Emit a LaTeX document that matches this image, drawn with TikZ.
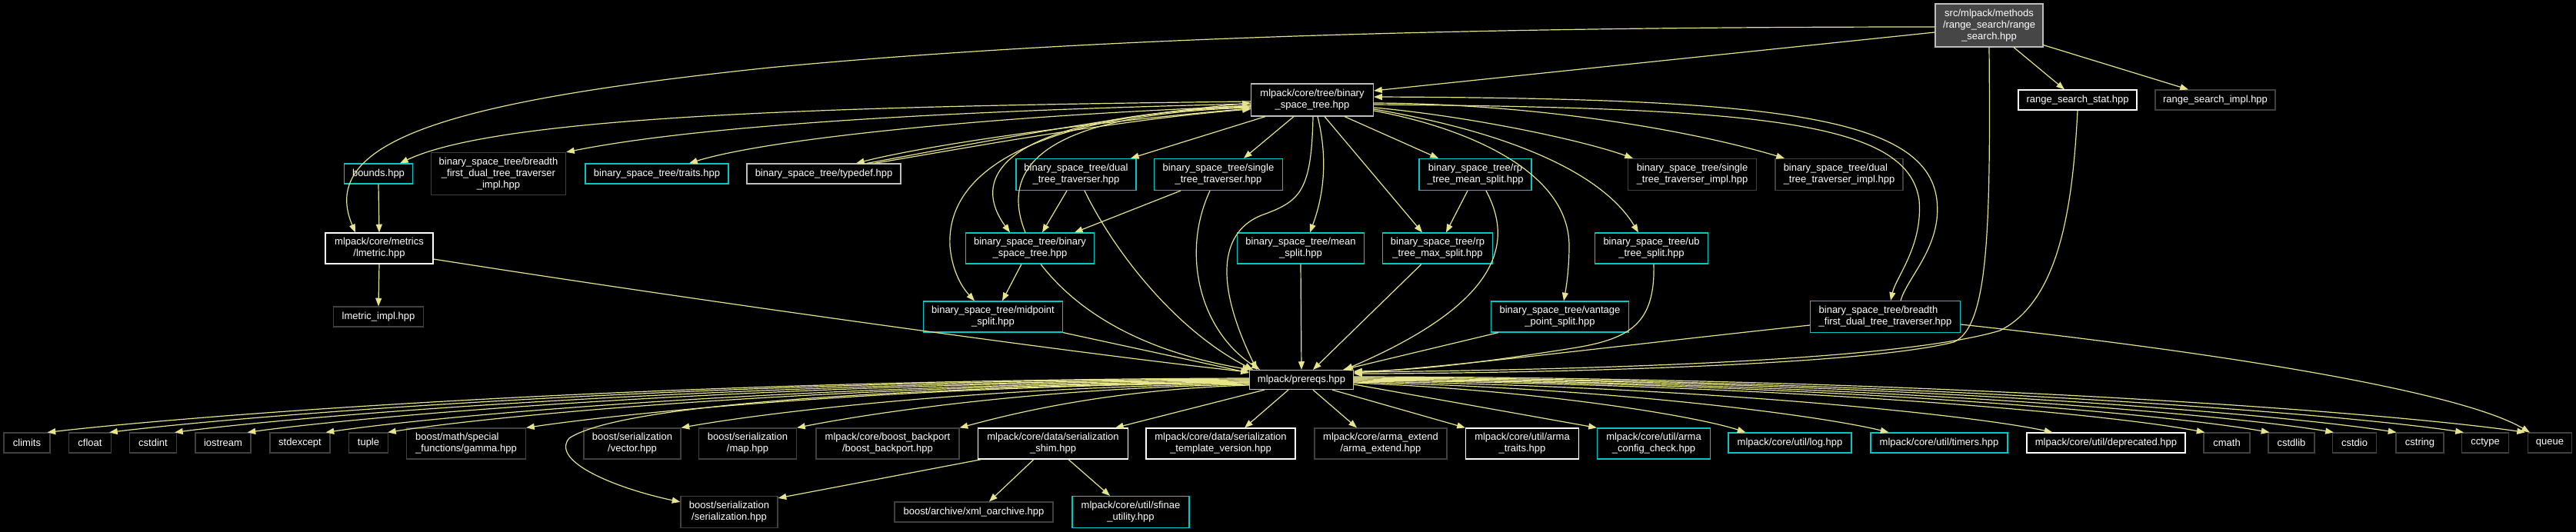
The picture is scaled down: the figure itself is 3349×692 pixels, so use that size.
\documentclass[tikz,border=0pt]{standalone}
\usepackage{fontspec}
\setmainfont{Liberation Sans}
\usetikzlibrary{arrows.meta,calc}
\definecolor{edgec}{RGB}{230,228,140}
\definecolor{cyanb}{RGB}{0,200,200}
\definecolor{darkb}{RGB}{64,64,64}
\definecolor{lightb}{RGB}{190,190,190}
\definecolor{rootf}{RGB}{70,70,70}
\begin{document}
\begin{tikzpicture}[x=0.75pt,y=-0.75pt,
 box/.style={draw, line width=0.9pt, fill=black, text=white, inner xsep=0pt, inner ysep=0pt,
   font=\fontsize{9.75pt}{11.25pt}\selectfont, align=center},
 cy/.style={box, draw=cyanb},
 dk/.style={box, draw=darkb},
 wh/.style={box, draw=white},
 lg/.style={box, draw=lightb},
 bw/.style={minimum width=#1*0.75pt},
 bh/.style={minimum height=#1*0.75pt},
 edg/.style={draw=edgec, line width=0.9pt, -{Triangle[length=8pt,width=6pt]}},
]
\fill[black] (0,0) rectangle (3349,692);
\useasboundingbox (0,0) rectangle (3349,692);

% ---------- nodes ----------
\node[lg, fill=rootf, bw=140, bh=56] (R) at (2586,33) {src/mlpack/methods\\/range\_search/range\\\_search.hpp};
\node[lg, bw=159, bh=42] (T) at (1706,130) {mlpack/core/tree/binary\\\_space\_tree.hpp};
\node[wh, bw=154, bh=26] (RSS) at (2701,130) {range\_search\_stat.hpp};
\node[dk, bw=156, bh=26] (RSI) at (2880,130) {range\_search\_impl.hpp};

\node[cy, bw=89, bh=26] (B) at (492,226) {bounds.hpp};
\node[dk, bw=175, bh=55] (BFI) at (648,226) {binary\_space\_tree/breadth\\\_first\_dual\_tree\_traverser\\\_impl.hpp};
\node[cy, bw=186, bh=26] (TR) at (854,226) {binary\_space\_tree/traits.hpp};
\node[lg, bw=200, bh=26] (TD) at (1071,226) {binary\_space\_tree/typedef.hpp};
\node[cy, bw=156, bh=41] (DT) at (1399,227) {binary\_space\_tree/dual\\\_tree\_traverser.hpp};
\node[cy, bw=167, bh=41] (ST) at (1584,227) {binary\_space\_tree/single\\\_tree\_traverser.hpp};
\node[cy, bw=146, bh=41] (RMN) at (1918,227) {binary\_space\_tree/rp\\\_tree\_mean\_split.hpp};
\node[dk, bw=167, bh=41, align=left] (STI) at (2200,227) {binary\_space\_tree/single\\\_tree\_traverser\_impl.hpp};
\node[dk, bw=166, bh=41, align=left] (DTI) at (2391,227) {binary\_space\_tree/dual\\\_tree\_traverser\_impl.hpp};

\node[wh, bw=140, bh=40] (LM) at (493,323) {mlpack/core/metrics\\/lmetric.hpp};
\node[cy, bw=167, bh=40] (BB) at (1339,323) {binary\_space\_tree/binary\\\_space\_tree.hpp};
\node[cy, bw=165, bh=40] (MS) at (1691,323) {binary\_space\_tree/mean\\\_split.hpp};
\node[cy, bw=143, bh=40] (RMX) at (1869,323) {binary\_space\_tree/rp\\\_tree\_max\_split.hpp};
\node[cy, bw=147, bh=40] (UB) at (2147,323) {binary\_space\_tree/ub\\\_tree\_split.hpp};

\node[dk, bw=117, bh=26] (LMI) at (492,412) {lmetric\_impl.hpp};
\node[cy, bw=181, bh=40] (MP) at (1291,412) {binary\_space\_tree/midpoint\\\_split.hpp};
\node[cy, bw=179, bh=40] (VP) at (2028,412) {binary\_space\_tree/vantage\\\_point\_split.hpp};
\node[cy, bw=195, bh=41, align=left] (BFT) at (2451,412) {binary\_space\_tree/breadth\\\_first\_dual\_tree\_traverser.hpp};

\node[lg, bw=135, bh=25] (P) at (1692,494) {mlpack/prereqs.hpp};

\node[dk, bw=60, bh=26] (climits) at (35,576) {climits};
\node[dk, bw=55, bh=26] (cfloat) at (117,576) {cfloat};
\node[dk, bw=61, bh=26] (cstdint) at (199,576) {cstdint};
\node[dk, bw=72, bh=26] (iostream) at (290,576) {iostream};
\node[dk, bw=78, bh=26] (stdexcept) at (390,576) {stdexcept};
\node[dk, bw=51, bh=26] (tuple) at (479,576) {tuple};
\node[dk, bw=155, bh=40, align=left] (GAM) at (606,577) {boost/math/special\\\_functions/gamma.hpp};
\node[dk, bw=126, bh=40] (VEC) at (822,577) {boost/serialization\\/vector.hpp};
\node[dk, bw=127, bh=40] (MAP) at (972,577) {boost/serialization\\/map.hpp};
\node[dk, bw=186, bh=40] (BBP) at (1154,577) {mlpack/core/boost\_backport\\/boost\_backport.hpp};
\node[wh, bw=195, bh=40] (SS) at (1369,577) {mlpack/core/data/serialization\\\_shim.hpp};
\node[wh, bw=194, bh=40] (TV) at (1587,577) {mlpack/core/data/serialization\\\_template\_version.hpp};
\node[dk, bw=172, bh=40] (AE) at (1795,577) {mlpack/core/arma\_extend\\/arma\_extend.hpp};
\node[wh, bw=147, bh=40] (AT) at (1979,577) {mlpack/core/util/arma\\\_traits.hpp};
\node[cy, bw=147, bh=40] (ACC) at (2150,577) {mlpack/core/util/arma\\\_config\_check.hpp};
\node[cy, bw=160, bh=26] (LOG) at (2327,576) {mlpack/core/util/log.hpp};
\node[cy, bw=178, bh=26] (TIM) at (2521,576) {mlpack/core/util/timers.hpp};
\node[wh, bw=206, bh=26] (DEP) at (2738,576) {mlpack/core/util/deprecated.hpp};
\node[dk, bw=60, bh=26] (cmath) at (2895,576) {cmath};
\node[dk, bw=60, bh=26] (cstdlib) at (2979,576) {cstdlib};
\node[dk, bw=57, bh=26] (cstdio) at (3061,576) {cstdio};
\node[dk, bw=62, bh=26] (cstring) at (3146,576) {cstring};
\node[dk, bw=61, bh=26] (cctype) at (3231,576) {cctype};
\node[dk, bw=57, bh=26] (queue) at (3315,576) {queue};

\node[dk, bw=126, bh=41] (SER) at (948,666) {boost/serialization\\/serialization.hpp};
\node[dk, bw=206, bh=26] (XO) at (1266,666) {boost/archive/xml\_oarchive.hpp};
\node[cy, bw=152, bh=41] (SFU) at (1470,666) {mlpack/core/util/sfinae\\\_utility.hpp};

% ---------- edges from root ----------
\draw[edg] ($(R.west)+(0,9)$) -- ($(T.east)+(0,-12)$);
\draw[edg] ($(R.west)+(0,2)$) .. controls (1900,35) and (1400,50) .. (1000,88) .. controls (600,130) and (410,180) .. ($(LM.north)+(-31,0)$);
\draw[edg] ($(R.south)+(32,0)$) -- ($(RSS.north)+(-17,0)$);
\draw[edg] ($(R.south east)+(0,-3)$) -- ($(RSI.north)+(-35,0)$);
\draw[edg] (R.south) .. controls (2588,300) and (2585,425) .. (2540,445) .. controls (2400,480) and (1900,486) .. ($(P.east)+(0,-8)$);
\draw[edg] (RSS.south) .. controls (2695,260) and (2680,390) .. (2600,430) .. controls (2450,475) and (1950,482) .. ($(P.east)+(0,-10)$);

% ---------- lmetric ----------
\draw[edg] (B.south) -- (LM.north);
\draw[edg] (LM.south) -- (LMI.north);
\draw[edg] ($(LM.east)+(0,14)$) .. controls (900,390) and (1400,460) .. ($(P.west)+(0,-10)$);

% ---------- from core/tree/binary_space_tree.hpp ----------
\draw[edg] ($(T.west)+(0,2)$) .. controls (1100,138) and (650,150) .. ($(B.north)+(28,0)$);
\draw[edg] ($(T.west)+(0,5)$) .. controls (1200,145) and (900,165) .. (BFI.north east);
\draw[edg] ($(T.west)+(0,8)$) .. controls (1300,150) and (1000,180) .. ($(TR.north)+(42,0)$);
\draw[edg] ($(T.west)+(0,11)$) .. controls (1400,160) and (1200,190) .. ($(TD.north)+(42,0)$);
\draw[edg] ($(TD.north)+(56,0)$) .. controls (1250,190) and (1450,150) .. ($(T.west)+(0,4)$);
\draw[edg] ($(TD.north)+(66,0)$) .. controls (1270,190) and (1460,155) .. ($(T.west)+(0,12)$);
\draw[edg] ($(T.west)+(0,9)$) .. controls (1300,150) and (1260,230) .. ($(BB.north)+(-26,0)$);
\draw[edg] ($(BB.north)+(-6,0)$) .. controls (1300,220) and (1350,150) .. ($(T.west)+(0,10)$);
\draw[edg] ($(T.west)+(0,7)$) .. controls (1350,150) and (1230,220) .. (1235,320) .. controls (1238,355) and (1252,375) .. ($(MP.north)+(-24,0)$);
\draw[edg] ($(T.south)+(-61,0)$) -- ($(DT.north)+(71,0)$);
\draw[edg] ($(T.south)+(-24,0)$) -- ($(ST.north)+(33,0)$);
\draw[edg] ($(T.south)+(7,0)$) .. controls (1730,220) and (1715,270) .. ($(MS.north)+(12,0)$);
\draw[edg] ($(T.south)+(16,0)$) -- ($(RMX.north)+(-20,0)$);
\draw[edg] ($(T.south)+(42,0)$) -- ($(RMN.north)+(-48,0)$);
\draw[edg] ($(T.south)+(1,0)$) .. controls (1705,250) and (1690,262) .. (1640,280) .. controls (1590,300) and (1575,360) .. ($(P.north west)+(10,0)$);
\draw[edg] ($(T.east)+(0,10)$) .. controls (1900,150) and (2050,180) .. ($(STI.north)+(-77,0)$);
\draw[edg] ($(T.east)+(0,4)$) .. controls (2000,135) and (2200,170) .. ($(DTI.north)+(-71,0)$);
\draw[edg] ($(T.east)+(0,12)$) .. controls (1950,170) and (2080,220) .. ($(UB.north)+(-17,0)$);
\draw[edg] ($(T.east)+(0,14)$) .. controls (1900,165) and (2040,220) .. (2040,320) .. controls (2040,350) and (2036,375) .. ($(VP.north)+(5,0)$);
\draw[edg] ($(T.east)+(0,6)$) .. controls (2300,140) and (2480,160) .. (2495,260) .. controls (2500,320) and (2465,360) .. ($(BFT.north)+(7,0)$);
\draw[edg] ($(BFT.north)+(20,0)$) .. controls (2480,360) and (2525,320) .. (2518,260) .. controls (2505,150) and (2300,128) .. ($(T.east)+(0,-4)$);

% ---------- second level ----------
\draw[edg] ($(DT.south)+(-12,0)$) -- ($(BB.north)+(16,0)$);
\draw[edg] ($(DT.south)+(11,0)$) .. controls (1450,330) and (1530,430) .. ($(P.north west)+(5,0)$);
\draw[edg] ($(ST.south west)+(35,0)$) -- ($(BB.north)+(58,0)$);
\draw[edg] ($(ST.south)+(-11,0)$) .. controls (1535,330) and (1560,430) .. ($(P.north west)+(14,0)$);
\draw[edg] ($(BB.south)+(-11,0)$) -- ($(MP.north)+(12,0)$);
\draw[edg] ($(BB.south)+(14,0)$) .. controls (1420,430) and (1530,465) .. ($(P.north west)+(2,0)$);
\draw[edg] (MP.south east) -- ($(P.west)+(0,-9)$);
\draw[edg] (MS.south) -- (P.north);
\draw[edg] ($(RMX.south)+(-21,0)$) -- ($(P.north)+(15,0)$);
\draw[edg] ($(RMN.south)+(-10,0)$) -- ($(RMX.north)+(11,0)$);
\draw[edg] ($(RMN.south)+(14,0)$) .. controls (1965,310) and (1960,390) .. ($(P.north east)+(-12,0)$);
\draw[edg] ($(VP.south west)+(10,0)$) -- ($(P.north east)+(-14,0)$);
\draw[edg] ($(UB.south)+(3,0)$) .. controls (2152,420) and (2120,440) .. (2050,452) .. controls (1950,468) and (1850,482) .. ($(P.east)+(0,-11)$);
\draw[edg] ($(BFT.west)+(0,11)$) .. controls (2100,450) and (1900,476) .. ($(P.east)+(0,-9)$);
\draw[edg] ($(BFT.east)+(0,10)$) .. controls (2900,460) and (3200,510) .. ($(queue.north west)+(3,0)$);

% ---------- prereqs to the left ----------
\draw[edg] ($(P.west)+(0,-2)$) .. controls +(-780,2) and +(190,-22) .. ($(climits.north east)+(-4,0)$);
\draw[edg] ($(P.west)+(0,-1)$) .. controls +(-740,2) and +(180,-22) .. ($(cfloat.north east)+(-3,0)$);
\draw[edg] ($(P.west)+(0,0)$) .. controls +(-700,3) and +(170,-22) .. ($(cstdint.north east)+(-3,0)$);
\draw[edg] ($(P.west)+(0,1)$) .. controls +(-650,3) and +(160,-22) .. ($(iostream.north east)+(-5,0)$);
\draw[edg] ($(P.west)+(0,2)$) .. controls +(-600,4) and +(150,-22) .. ($(stdexcept.north east)+(-6,0)$);
\draw[edg] ($(P.west)+(0,3)$) .. controls +(-560,4) and +(140,-22) .. ($(tuple.north east)+(-1,0)$);
\draw[edg] ($(P.west)+(0,4)$) .. controls +(-470,4) and +(120,-18) .. (GAM.north east);
\draw[edg] ($(P.west)+(0,5)$) .. controls +(-370,5) and +(100,-18) .. (VEC.north east);
\draw[edg] ($(P.west)+(0,6)$) .. controls +(-290,5) and +(80,-16) .. (MAP.north east);
\draw[edg] ($(P.west)+(0,7)$) .. controls +(-190,6) and +(60,-16) .. (BBP.north east);
\draw[edg] ($(P.west)+(0,3)$) .. controls (1100,505) and (800,530) .. (740,570) .. controls (715,600) and (800,635) .. ($(SER.north west)+(0,8)$);
\draw[edg] ($(P.south west)+(20,0)$) -- ($(SS.north)+(81,0)$);
\draw[edg] ($(P.south)+(-17,0)$) -- ($(TV.north)+(31,0)$);
\draw[edg] ($(P.south)+(15,0)$) -- ($(AE.north)+(-31,0)$);
\draw[edg] ($(P.south)+(40,0)$) -- (AT.north west);
\draw[edg] ($(P.east)+(0,6)$) -- (ACC.north west);

% ---------- prereqs to the right ----------
\draw[edg] ($(P.east)+(0,4)$) .. controls +(250,10) and +(-60,-20) .. ($(LOG.north west)+(23,0)$);
\draw[edg] ($(P.east)+(0,3)$) .. controls +(350,8) and +(-80,-20) .. ($(TIM.north west)+(24,0)$);
\draw[edg] ($(P.east)+(0,2)$) .. controls +(450,6) and +(-100,-22) .. ($(DEP.north west)+(34,0)$);
\draw[edg] ($(P.east)+(0,1)$) .. controls +(550,4) and +(-130,-25) .. ($(cmath.north west)+(2,0)$);
\draw[edg] ($(P.east)+(0,0)$) .. controls +(590,3) and +(-140,-25) .. ($(cstdlib.north west)+(2,0)$);
\draw[edg] ($(P.east)+(0,-1)$) .. controls +(630,3) and +(-150,-25) .. ($(cstdio.north west)+(2,0)$);
\draw[edg] ($(P.east)+(0,-2)$) .. controls +(670,2) and +(-160,-25) .. ($(cstring.north west)+(1,0)$);
\draw[edg] ($(P.east)+(0,-3)$) .. controls +(710,2) and +(-165,-25) .. ($(cctype.north west)+(3,0)$);
\draw[edg] ($(P.east)+(0,-4)$) .. controls +(760,1) and +(-170,-25) .. ($(queue.north west)+(-3,0)$);

% ---------- serialization shim ----------
\draw[edg] ($(SS.south west)+(5,0)$) -- ($(SER.north east)+(0,3)$);
\draw[edg] ($(SS.south)+(-25,0)$) -- ($(XO.north)+(20,0)$);
\draw[edg] ($(SS.south)+(20,0)$) -- ($(SFU.north)+(-27,0)$);
\end{tikzpicture}
\end{document}
